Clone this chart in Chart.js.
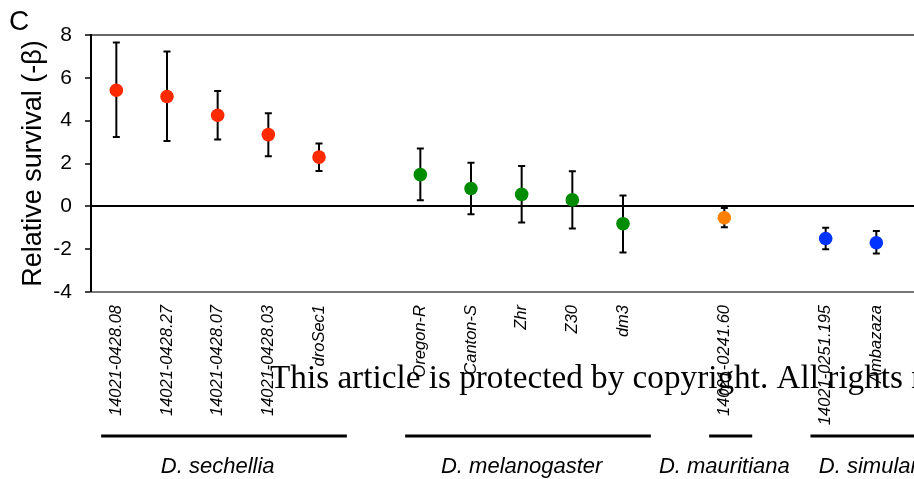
<!DOCTYPE html>
<html>
<head>
<meta charset="utf-8">
<script src="https://cdn.jsdelivr.net/npm/chart.js@4"></script>
<style>
  html, body { margin: 0; padding: 0; background: #fff; overflow: hidden; }
  #wrap { width: 960px; height: 479px; }
</style>
</head>
<body>
<div id="wrap"><canvas id="myChart" width="960" height="479"></canvas></div>
<script>
'use strict';

// strains in plot order, '' = gap between species
const strains = ['14021-0428.08', '14021-0428.27', '14021-0428.07', '14021-0428.03', 'droSec1', '',
  'Oregon-R', 'Canton-S', 'Zhr', 'Z30', 'dm3', '',
  '14021-0241.60', '',
  '14021-0251.195', 'Ambazaza', ''];

const means = [5.42, 5.13, 4.25, 3.35, 2.30, null, 1.48, 0.83, 0.56, 0.30, -0.81, null, -0.53, null, -1.50, -1.70, null];
const upper = [7.65, 7.23, 5.39, 4.35, 2.93, null, 2.70, 2.04, 1.88, 1.64, 0.51, null, -0.08, null, -1.00, -1.15, null];
const lower = [3.24, 3.05, 3.12, 2.34, 1.65, null, 0.28, -0.37, -0.75, -1.03, -2.15, null, -0.98, null, -2.00, -2.20, null];

const speciesNames = ['D. sechellia', 'D. melanogaster', 'D. mauritiana', 'D. simulans'];
const speciesFirst = [0, 6, 12, 14];
const speciesLast = [4, 10, 12, 16];
const speciesColors = ['#ff2a00', '#008c00', '#ff8000', '#0033ff'];

const yTicks = [-4, -2, 0, 2, 4, 6, 8];

const font = 'Arial, "Liberation Sans", sans-serif';

function pick(k) {
  return means.map((v, i) => (i >= speciesFirst[k] && i <= speciesLast[k]) ? v : null);
}

const datasets = speciesNames.map((name, k) => ({
  label: name,
  data: pick(k),
  showLine: false,
  pointRadius: 6.8,
  pointHoverRadius: 6.8,
  pointBackgroundColor: speciesColors[k],
  pointBorderWidth: 0,
  borderColor: speciesColors[k]
}));

const errorBars = {
  id: 'errorBars',
  beforeDatasetsDraw(chart) {
    const ctx = chart.ctx;
    const y = chart.scales.y;
    const x = chart.scales.x;
    ctx.save();
    ctx.strokeStyle = '#000';
    ctx.lineWidth = 2;
    means.forEach((m, i) => {
      if (m === null) return;
      const px = x.getPixelForValue(i);
      const top = y.getPixelForValue(upper[i]);
      const bot = y.getPixelForValue(lower[i]);
      ctx.beginPath();
      ctx.moveTo(px, top); ctx.lineTo(px, bot);
      ctx.moveTo(px - 3.5, top); ctx.lineTo(px + 3.5, top);
      ctx.moveTo(px - 3.5, bot); ctx.lineTo(px + 3.5, bot);
      ctx.stroke();
    });
    ctx.restore();
  }
};

const extras = {
  id: 'extras',
  afterDraw(chart) {
    const ctx = chart.ctx;
    const x = chart.scales.x;
    const step = x.getPixelForValue(1) - x.getPixelForValue(0);
    ctx.save();
    // species bars and names
    ctx.strokeStyle = '#000';
    ctx.lineWidth = 3;
    ctx.fillStyle = '#000';
    ctx.font = 'italic 22px ' + font;
    ctx.textAlign = 'center';
    ctx.textBaseline = 'alphabetic';
    speciesNames.forEach((name, k) => {
      const a = x.getPixelForValue(speciesFirst[k]) - 0.3 * step;
      const b = x.getPixelForValue(speciesLast[k]) + 0.55 * step;
      ctx.beginPath();
      ctx.moveTo(a, 436); ctx.lineTo(b, 436);
      ctx.stroke();
      const c = x.getPixelForValue((speciesFirst[k] + speciesLast[k]) / 2);
      ctx.fillText(name, c, 473);
    });
    // panel letter
    ctx.textAlign = 'left';
    ctx.font = '28px ' + font;
    ctx.fillText('C', 9, 30);
    // watermark
    const mark = 'This article is protected by copyright. All rights reserved.';
    ctx.font = '33px "Liberation Serif", "DejaVu Serif", serif';
    const part = ctx.measureText('This article is protected by copyright. All rights').width;
    ctx.translate(270, 388);
    ctx.scale(633 / part, 1);
    ctx.fillText(mark, 0, 0);
    ctx.restore();
  }
};

const ctx = document.getElementById('myChart').getContext('2d');

const myChart = new Chart(ctx, {
  type: 'line',
  data: {
    labels: strains,
    datasets: datasets
  },
  plugins: [errorBars, extras],
  options: {
    responsive: false,
    animation: false,
    devicePixelRatio: 1,
    layout: { padding: { top: 35, right: 5, bottom: 0, left: 0 } },
    plugins: {
      legend: { display: false },
      tooltip: { enabled: false }
    },
    scales: {
      x: {
        offset: true,
        afterFit(scale) { scale.height = 187; },
        grid: { display: false, drawTicks: false },
        border: { color: '#777', width: 2 },
        ticks: {
          autoSkip: false,
          minRotation: 90,
          maxRotation: 90,
          padding: 13,
          color: '#000',
          font: { family: font, size: 16.5, style: 'italic' }
        }
      },
      y: {
        min: -4,
        max: 8,
        afterFit(scale) { scale.width = 91; },
        afterBuildTicks(scale) { scale.ticks = yTicks.map(v => ({ value: v })); },
        border: { color: '#000', width: 2 },
        grid: {
          drawTicks: true,
          tickLength: 6,
          tickColor: '#000',
          tickWidth: 1.5,
          lineWidth: c => (c.tick && (c.tick.value === 0 || c.tick.value === 8)) ? 2 : 0,
          color: c => {
            if (!c.tick) return 'transparent';
            if (c.tick.value === 0) return '#000';
            if (c.tick.value === 8) return '#666';
            return 'transparent';
          }
        },
        ticks: {
          padding: 13,
          color: '#000',
          font: { family: font, size: 21 }
        },
        title: {
          display: true,
          text: 'Relative survival (-β)',
          color: '#000',
          font: { family: font, size: 27 },
          padding: { top: 17, bottom: 0 }
        }
      }
    }
  }
});
</script>
</body>
</html>
